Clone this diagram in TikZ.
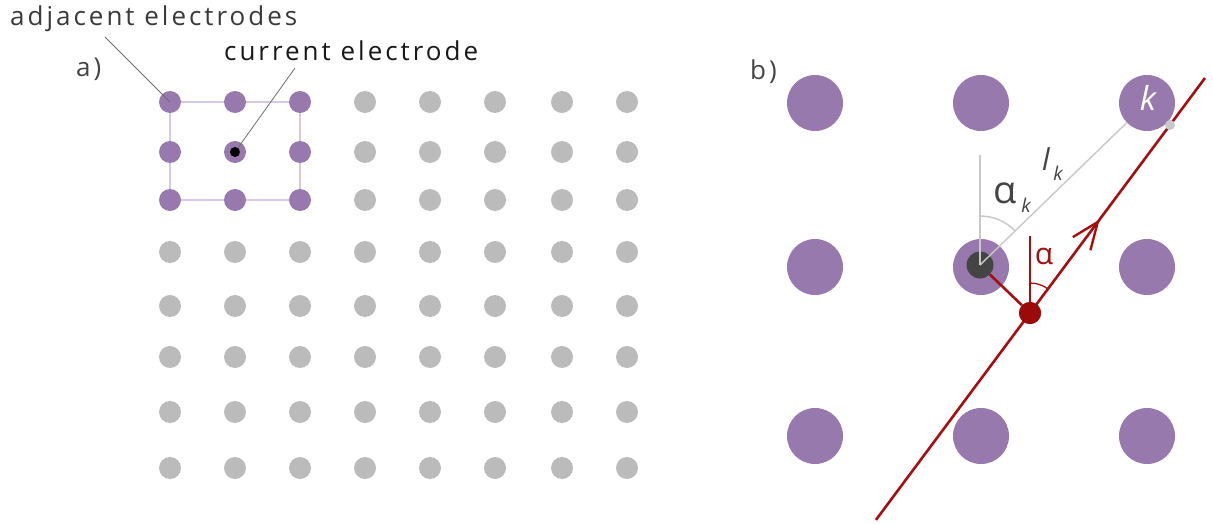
\documentclass[tikz,border=0pt]{standalone}
\usepackage{fontspec}
\setmainfont{Open Sans}
\usetikzlibrary{calc,backgrounds,decorations.markings,arrows.meta}
\definecolor{epurple}{HTML}{9879AD}
\definecolor{egray}{HTML}{BBBBBB}
\definecolor{eframe}{HTML}{D9C8E3}
\definecolor{edark}{HTML}{444444}
\definecolor{ered}{HTML}{A50F0F}
\definecolor{edot}{HTML}{9A0A0A}
\definecolor{etext}{HTML}{3A3A3A}
\definecolor{elk}{HTML}{C8C8C8}
\tikzset{
  dotA/.style={circle, inner sep=0pt, minimum size=22pt},
  bigdot/.style={circle, inner sep=0pt, minimum size=56pt, fill=epurple},
  lab/.style={font=\fontsize{26}{28}\selectfont\addfontfeatures{LetterSpace=11.5}, inner sep=0pt},
  pointer/.style={draw=gray!85!black, line width=0.8pt},
  thin gray/.style={draw=elk, line width=1.4pt},
  redline/.style={draw=ered, line width=2.6pt},
}
\begin{document}
\begin{tikzpicture}[x=1pt,y=-1pt]
\useasboundingbox (0,0) rectangle (1213,524);
\begin{pgfonlayer}{background}
\fill[white] (0,0) rectangle (1213,524);
\end{pgfonlayer}
% ---------- panel a ----------
\foreach \x [count=\i] in {170,235,300,365,430,495,562,627}{
  \foreach \y [count=\j] in {102,152,200,252,306,357,412,468}{
    \pgfmathtruncatemacro\ispurple{(\i<4)&&(\j<4)}
    \ifnum\ispurple=1 \def\dotcol{epurple}\else\def\dotcol{egray}\fi
    \node[dotA, fill=\dotcol] (g-\i-\j) at (\x,\y) {};
  }
}
\begin{pgfonlayer}{background}
\draw[eframe, line width=1.3pt] (g-1-1.center) -- (g-3-1.center) -- (g-3-3.center) -- (g-1-3.center) -- cycle;
\end{pgfonlayer}
\node[circle, inner sep=0pt, minimum size=10pt, fill=black] (cur) at (g-2-2) {};
\node[lab, text=etext, anchor=base west] (adjtext) at (10,26) {adjacent electrodes};
\node[lab, text=black!90, anchor=base west] (curtext) at (224,61) {current electrode};
\node[lab, text=edark, anchor=base west] (alab) at (76,77) {a)};
\coordinate (adjtip) at (105,37);
\coordinate (curtip) at (295,68);
\draw[pointer] (adjtip) -- (g-1-1.center);
\draw[pointer] (curtip) -- (cur);
% ---------- panel b ----------
\node[lab, text=edark, anchor=base west] (blab) at (750,80) {b)};
\foreach \x [count=\i] in {815,981,1147}{
  \foreach \y [count=\j] in {103,267,436}{
    \node[bigdot] (b-\i-\j) at (\x,\y) {};
  }
}
\node[circle, inner sep=0pt, minimum size=27pt, fill=edark] (ce) at (980,265) {};
\node[circle, inner sep=0pt, minimum size=22pt, fill=edot] (rp) at (1030,313) {};
\coordinate (rb) at ($(rp)+(126.67:258)$);
\coordinate (rt) at ($(rp)+(-53.33:293)$);
\coordinate (vtop) at ($(ce.center)+(0,-110)$);
\coordinate (rtop) at ($(rp.center)+(0,-77)$);
% grey construction lines
\draw[thin gray] (ce.center) -- (vtop);
\draw[thin gray] (ce.center) -- (b-3-1);
\draw[thin gray] ($(ce.center)+(-90:49)$) arc[start angle=-90, end angle=-44, radius=49];
% red line with arrow
\draw[redline, postaction={decorate},
  decoration={markings, mark=at position 0.68 with {\arrow{Straight Barb[length=27pt,width=22pt,line width=2.4pt]}}}]
  (rb) -- (rt);
\draw[redline] (ce) -- (rp);
\draw[draw=ered, line width=1.6pt] (rp.center) -- (rtop);
\draw[draw=ered, line width=1.3pt] ($(rp.center)+(-90:30)$) arc[start angle=-90, end angle=-53.33, radius=30];
\node[circle, inner sep=0pt, minimum size=22pt, fill=edot] (rp2) at (rp) {};
\node[circle, inner sep=0pt, minimum size=10pt, fill=elk] (gs) at (1170,125) {};
% labels
\node[text=white, font=\fontsize{33}{36}\selectfont\itshape, inner sep=0pt] (klab) at (1148,98) {k};
\node[text=edark, font=\fontsize{38}{40}\selectfont, inner sep=0pt, anchor=base] (ak) at (1005,203) {α};
\node[text=edark, font=\fontsize{19}{21}\selectfont\itshape, inner sep=0pt, anchor=base] (aksub) at (1026,212) {k};
\node[text=edark, font=\fontsize{30}{32}\selectfont\itshape, inner sep=0pt, anchor=base] (lk) at (1046,171) {l};
\node[text=edark, font=\fontsize{19}{21}\selectfont\itshape, inner sep=0pt, anchor=base] (lksub) at (1058,181) {k};
\node[text=ered, font=\fontsize{30}{32}\selectfont, inner sep=0pt, anchor=base] (ared) at (1044,264) {α};
\end{tikzpicture}
\end{document}
